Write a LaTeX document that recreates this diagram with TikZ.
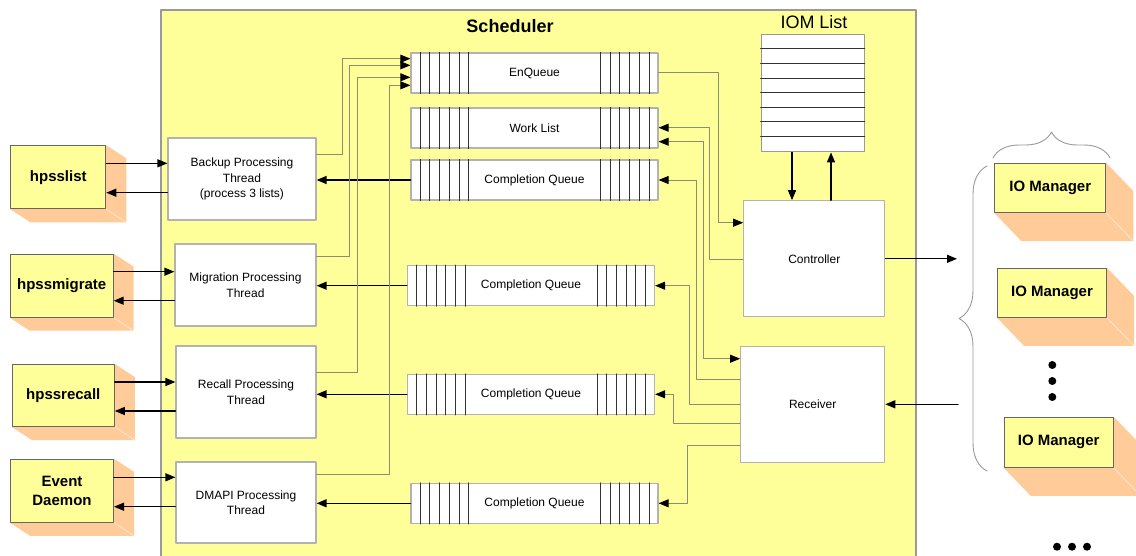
\documentclass[tikz,border=0pt]{standalone}
\usepackage{fontspec}
\setmainfont{Liberation Sans}
\usetikzlibrary{arrows.meta,decorations.pathreplacing,backgrounds}
\definecolor{ffff99}{rgb}{1.,1.,0.6}
\definecolor{ffcc99}{rgb}{1.,0.8,0.6}
\definecolor{ffe5cc}{rgb}{1.,0.9,0.8}
\definecolor{b3b3b3}{rgb}{0.7,0.7,0.7}
\definecolor{qqgray}{rgb}{0.6,0.6,0.6}
\definecolor{xdxdqq}{rgb}{0.4,0.4,0.4}
\definecolor{wirecol}{rgb}{0.55,0.55,0.45}
\begin{document}
\begin{tikzpicture}[x=1pt,y=-1pt,line cap=round,line join=round,>={Triangle[length=10pt,width=8pt,color=black]},
small/.style={font=\fontsize{12}{15.5}\selectfont},
thread/.style={draw=b3b3b3,fill=white,line width=1.2pt,align=center,small},
queue/.style={draw=b3b3b3,fill=white,line width=1.2pt,minimum width=247,minimum height=40,small},
cell/.style={draw=black!80,line width=0.8pt},
ext/.style={draw=xdxdqq,fill=ffff99,line width=1pt,align=center,font=\fontsize{15}{18.5}\selectfont\bfseries},
wire/.style={draw=wirecol,line width=0.9pt},
flow/.style={->,line width=1.3pt}]
\useasboundingbox (0,0) rectangle (1136,555);
\node [draw=qqgray,fill=ffff99,line width=1.2pt,minimum width=755,minimum height=560] (sched) at (538.5,290) {};
\node [font=\fontsize{18}{20}\selectfont\bfseries] (schedtitle) at (510,26) {Scheduler};
\node [font=\fontsize{18}{20}\selectfont] (iomtitle) at (814,22) {IOM List};
\node [ext,minimum width=95,minimum height=63] (hpl) at (58.3,177.3) {hpsslist};
\node [ext,minimum width=103,minimum height=63] (hpm) at (61.7,285.7) {hpssmigrate};
\node [ext,minimum width=102,minimum height=62] (hpr) at (63.3,395.5) {hpssrecall};
\node [ext,minimum width=103,minimum height=63] (evd) at (62,490.8) {Event\\Daemon};
\node [thread,minimum width=148,minimum height=82] (bpt) at (242,179) {Backup Processing\\Thread\\(process 3 lists)};
\node [thread,minimum width=141,minimum height=82] (mpt) at (245.5,285) {Migration Processing\\Thread};
\node [thread,minimum width=140,minimum height=92] (rpt) at (246,392) {Recall Processing\\Thread};
\node [thread,minimum width=140,minimum height=81] (dpt) at (246,502.5) {DMAPI Processing\\Thread};
\node [queue] (enq) at (534.5,73) {EnQueue};
\node [queue] (wl) at (534.5,128) {Work List};
\node [queue] (cq1) at (534.5,180) {Completion Queue};
\node [queue] (cq2) at (531,285.7) {Completion Queue};
\node [queue] (cq3) at (531,394.3) {Completion Queue};
\node [queue] (cq4) at (534.5,503.3) {Completion Queue};
\foreach \q in {enq,wl,cq1,cq2,cq3,cq4}
\foreach \i in {1,...,6}
{\draw [cell] ([xshift=\i*9.7]\q.north west) -- ([xshift=\i*9.7]\q.south west);
\draw [cell] ([xshift=-\i*9.7]\q.north east) -- ([xshift=-\i*9.7]\q.south east);}
\node [draw=qqgray,fill=white,line width=1.2pt,minimum width=103,minimum height=117] (iom) at (812.7,93.3) {};
\foreach \i in {1,...,7}
\draw [cell] ([yshift=-\i*14.6]iom.north west) -- ([yshift=-\i*14.6]iom.north east);
\node [thread,minimum width=141,minimum height=116] (ctrl) at (814.3,258.8) {Controller};
\node [thread,minimum width=144,minimum height=116] (recv) at (812.7,404.3) {Receiver};
\node [ext,minimum width=111,minimum height=49] (io1) at (1050.3,188) {IO Manager};
\node [ext,minimum width=109,minimum height=49] (io2) at (1052,292.8) {IO Manager};
\node [ext,minimum width=109,minimum height=50] (io3) at (1058.7,442.3) {IO Manager};
\coordinate (iosend) at (957,258.8);
\coordinate (iorecv) at (958,404.3);
\begin{scope}[on background layer]
\foreach \b in {hpl,hpm,hpr,evd}
{\fill [ffcc99] (\b.north east) -- ++(20,13) -- ([shift={(20,13)}]\b.south east) -- ([shift={(20,13)}]\b.south west) -- (\b.south west) -- cycle;
\draw [ffe5cc,line width=0.8pt] (\b.south east) -- ++(20,13);}
\foreach \b in {io1,io2,io3}
{\fill [ffcc99] (\b.north east) -- ++(27,28) -- ([shift={(27,28)}]\b.south east) -- ([shift={(27,28)}]\b.south west) -- (\b.south west) -- cycle;
\draw [ffe5cc,line width=0.8pt] (\b.south east) -- ++(27,28);}
\end{scope}
\foreach \a/\b/\u/\v in {hpl/bpt/163.3/192.7,hpm/mpt/271.7/300.7,hpr/rpt/382/411,evd/dpt/477.3/506.7}
{\draw [flow] (\a.east |- 0,\u) -- (\b.west |- 0,\u);
\draw [flow] (\b.west |- 0,\v) -- (\a.east |- 0,\v);}
\foreach \q/\t in {cq1/bpt,cq2/mpt,cq3/rpt,cq4/dpt}
\draw [flow] (\q.west) -- (\t.east |- \q.west);
\draw [flow] (iom.south -| 792,0) -- (ctrl.north -| 792,0);
\draw [flow] (ctrl.north -| 831,0) -- (iom.south -| 831,0);
\draw [flow] (ctrl.east) -- (iosend);
\draw [flow] (iorecv) -- (recv.east);
\draw [wire,->] (bpt.east |- 0,154.3) -- ++(25.7,0) |- (enq.west |- 0,58.7);
\draw [wire,->] (mpt.east |- 0,256.3) -- ++(33.3,0) |- (enq.west |- 0,65.3);
\draw [wire,->] (rpt.east |- 0,372.3) -- ++(41.3,0) |- (enq.west |- 0,77.3);
\draw [wire,->] (dpt.east |- 0,474.3) -- ++(73.3,0) |- (enq.west |- 0,85.3);
\draw [wire,->] (enq.east |- 0,72.7) -- ++(60.3,0) |- (ctrl.west |- 0,222.7);
\draw [wire,->] (ctrl.west |- 0,259) -- ++(-33.7,0) |- (wl.east |- 0,127.7);
\draw [wire,<->] (wl.east |- 0,141.7) -- ++(45.3,0) |- (recv.west |- 0,358.7);
\draw [wire,->] (recv.west |- 0,379.3) -- ++(-43.4,0) |- (cq1.east |- 0,180);
\draw [wire,->] (recv.west |- 0,404.3) -- ++(-50.7,0) |- (cq2.east |- 0,285.7);
\draw [wire,->] (recv.west |- 0,423.7) -- ++(-66.7,0) |- (cq3.east |- 0,394.3);
\draw [wire,->] (recv.west |- 0,445) -- ++(-53,0) |- (cq4.east |- 0,503.3);
\draw [draw=qqgray,line width=0.9pt,decorate,decoration={brace,amplitude=28pt}] (987,471) -- (987,166);
\draw [draw=qqgray,line width=0.9pt,decorate,decoration={brace,amplitude=26pt}] (993,158) -- (1110,158);
\foreach \y in {365,381,397}
\fill (1052.3,\y) circle (4pt);
\foreach \x in {1057,1072,1087}
\fill (\x,546.7) circle (4pt);
\end{tikzpicture}
\end{document}
